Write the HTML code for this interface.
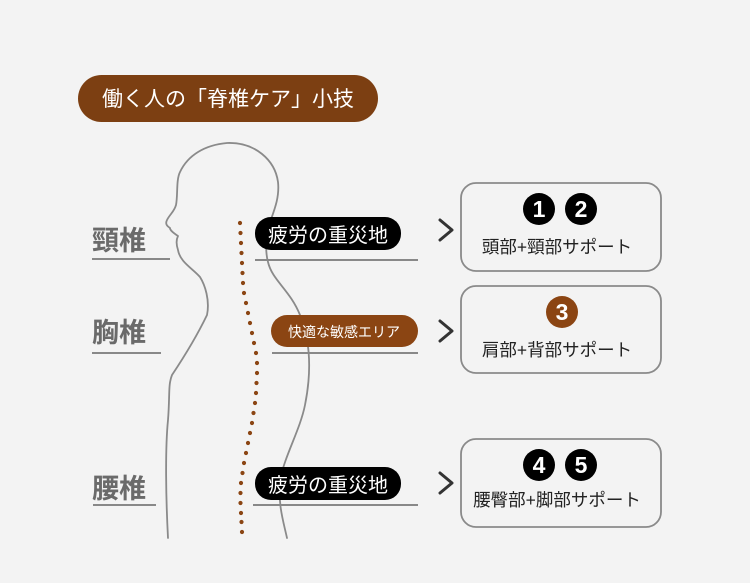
<!DOCTYPE html>
<html><head><meta charset="utf-8"><style>
html,body{margin:0;padding:0;background:#f3f3f3;}
svg{display:block;}
text{font-family:"Liberation Sans","Noto Sans CJK JP",sans-serif;}
</style></head><body>
<svg width="750" height="583" viewBox="0 0 750 583" xmlns="http://www.w3.org/2000/svg">
<rect width="750" height="583" fill="#f3f3f3"/>
<rect x="78" y="75" width="300" height="47" rx="23.5" fill="#7c3f12"/>
<text x="228" y="106" font-size="21" fill="#fff" text-anchor="middle">働く人の「脊椎ケア」小技</text>
<g fill="none" stroke="#8a8a8a" stroke-width="1.8" stroke-linecap="round" stroke-linejoin="round">
<path d="M168 538 C166 500 165 450 168 420 C170 395 168 385 172 375 C182 360 195 340 207 315 C210 300 205 285 200 277 C192 268 180 262 178 250 C176 244 176 240 178 236 C172 232 170 230 170 228 C167 226 165 224 167 220 C170 214 174 212 176 205 C178 195 176 180 180 172 C188 155 205 145 227 143 C255 142 275 160 278 182 C280 200 272 215 268 228 C265 240 266 255 268 262 C272 280 290 290 300 315 C310 340 312 370 305 405 C300 430 285 455 280 480 C278 505 283 520 287 538"/>
</g>
<g fill="#8b4513">
<circle cx="240" cy="223" r="2.1"/><circle cx="240.5" cy="233" r="2.1"/><circle cx="241" cy="243" r="2.1"/><circle cx="241.5" cy="253" r="2.1"/><circle cx="242" cy="263" r="2.1"/><circle cx="242.5" cy="273" r="2.1"/><circle cx="243" cy="283" r="2.1"/><circle cx="244" cy="293" r="2.1"/><circle cx="246" cy="303" r="2.1"/><circle cx="248" cy="313" r="2.1"/><circle cx="250" cy="323" r="2.1"/><circle cx="252" cy="333" r="2.1"/><circle cx="254" cy="343" r="2.1"/><circle cx="256" cy="353" r="2.1"/><circle cx="257" cy="363" r="2.1"/><circle cx="257" cy="373" r="2.1"/><circle cx="256.5" cy="383" r="2.1"/><circle cx="256" cy="393" r="2.1"/><circle cx="255" cy="403" r="2.1"/><circle cx="253.5" cy="413" r="2.1"/><circle cx="252" cy="423" r="2.1"/><circle cx="250" cy="433" r="2.1"/><circle cx="248" cy="443" r="2.1"/><circle cx="246" cy="453" r="2.1"/><circle cx="244" cy="463" r="2.1"/><circle cx="242.5" cy="473" r="2.1"/><circle cx="241" cy="483" r="2.1"/><circle cx="240.5" cy="493" r="2.1"/><circle cx="240.5" cy="503" r="2.1"/><circle cx="241" cy="513" r="2.1"/><circle cx="241.5" cy="522" r="2.1"/><circle cx="242" cy="532" r="2.1"/>
</g>
<g font-size="27" font-weight="bold" fill="#6a6a6a">
<text x="92" y="250">頸椎</text>
<text x="92" y="342">胸椎</text>
<text x="92" y="498">腰椎</text>
</g>
<g stroke="#888" stroke-width="2">
<line x1="92" y1="259" x2="170" y2="259"/>
<line x1="92" y1="353" x2="161" y2="353"/>
<line x1="93" y1="505" x2="156" y2="505"/>
<line x1="255" y1="260" x2="418" y2="260"/>
<line x1="272" y1="353" x2="418" y2="353"/>
<line x1="253" y1="505" x2="418" y2="505"/>
</g>
<rect x="255" y="217" width="146" height="33" rx="16" fill="#000"/>
<text x="328" y="242" font-size="20" fill="#fff" text-anchor="middle">疲労の重災地</text>
<rect x="271" y="315" width="147" height="32" rx="16" fill="#8b4513"/>
<text x="344" y="337" font-size="14" fill="#fff" text-anchor="middle">快適な敏感エリア</text>
<rect x="255" y="467" width="146" height="33" rx="16" fill="#000"/>
<text x="328" y="492" font-size="20" fill="#fff" text-anchor="middle">疲労の重災地</text>
<g fill="none" stroke="#333" stroke-width="3" stroke-linecap="round" stroke-linejoin="round">
<polyline points="440,220 452,230 440,240"/>
<polyline points="440,321 452,331 440,341"/>
<polyline points="440,473 452,483 440,493"/>
</g>
<g fill="none" stroke="#8a8a8a" stroke-width="1.8">
<rect x="461" y="183" width="200" height="88" rx="15"/>
<rect x="461" y="286" width="200" height="87" rx="15"/>
<rect x="461" y="439" width="200" height="88" rx="15"/>
</g>
<g font-size="23" font-weight="bold" fill="#fff" text-anchor="middle">
<circle cx="539" cy="209" r="16" fill="#000"/><text x="539" y="217">1</text>
<circle cx="581" cy="209" r="16" fill="#000"/><text x="581" y="217">2</text>
<circle cx="562" cy="312" r="16" fill="#8b4513"/><text x="562" y="320">3</text>
<circle cx="539" cy="465" r="16" fill="#000"/><text x="539" y="473">4</text>
<circle cx="581" cy="465" r="16" fill="#000"/><text x="581" y="473">5</text>
</g>
<g font-size="17.5" fill="#222" text-anchor="middle">
<text x="557" y="253">頭部+頸部サポート</text>
<text x="557" y="356">肩部+背部サポート</text>
<text x="557" y="506">腰臀部+脚部サポート</text>
</g>
</svg>
</body></html>
